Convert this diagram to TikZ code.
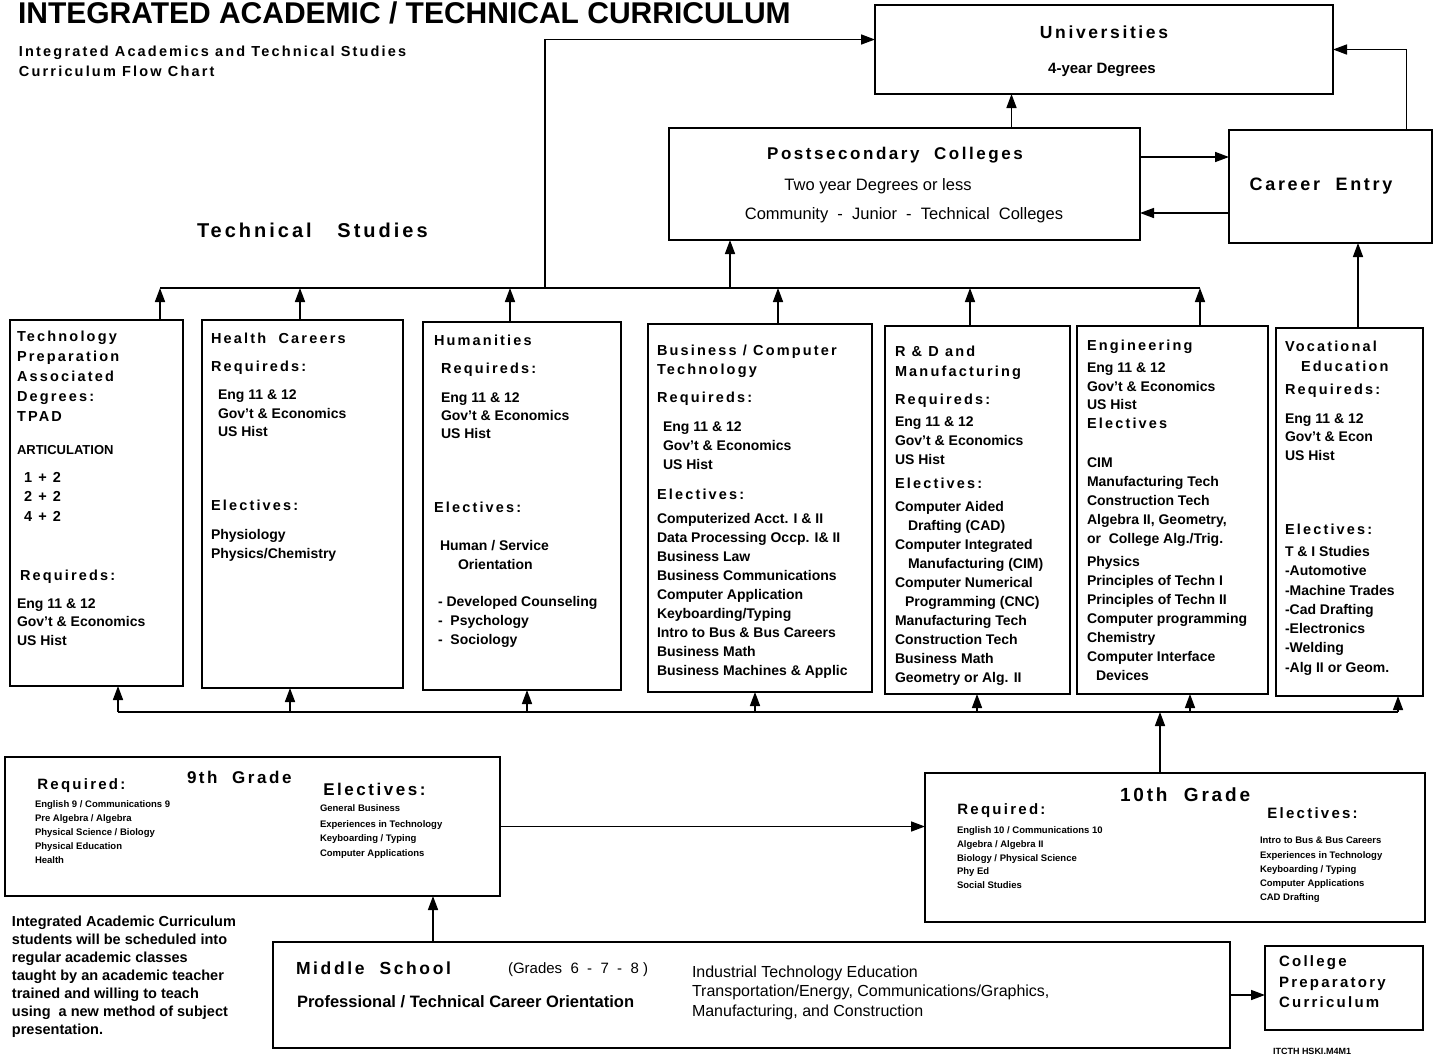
\documentclass[tikz,border=0pt]{standalone}
\usepackage{fontspec}
\setmainfont{Liberation Sans}
\newfontfamily\spacedfont{Liberation Sans}[LetterSpace=15]
\usetikzlibrary{arrows.meta}

% spread-out bold heading font, size as option
\newcommand{\hdf}[1][14.5]{\spacedfont\bfseries\fontsize{#1}{19}\selectfont}
% plain size switch
\newcommand{\fsz}[2]{\fontsize{#1}{#2}\selectfont}

\tikzset{
  box/.style={draw, line width=1.6pt, inner sep=0pt, outer sep=0pt, anchor=north west},
  txt/.style={inner sep=0pt, outer sep=0pt, align=left, anchor=north west, font=\bfseries\fsz{14}{19}},
  small/.style={txt, font=\bfseries\fsz{9.5}{14}},
  flow/.style={line width=1.6pt, -{Triangle[length=14pt,width=10pt]}},
  bus/.style={line width=1.6pt},
}

\begin{document}
\begin{tikzpicture}[x=1pt, y=-1pt]
    \useasboundingbox (0,0) rectangle (1436,1058);

    % Titles
    \node[txt, font=\bfseries\fsz{30}{32}, anchor=west] (title) at (18,13)
        {INTEGRATED ACADEMIC / TECHNICAL CURRICULUM};
    \node[txt, font={\hdf[14.5]}] (subtitle) at (19,46)
        {Integrated Academics and Technical Studies\\[1pt]Curriculum Flow Chart};
    \node[txt, font={\hdf[20]}, anchor=west] (techstudies) at (197,230) {Technical\ \ \ Studies};

    % Upper level
    \node[box, minimum width=458, minimum height=89] (univ) at (875,5) {};
    \node[txt, font={\hdf[17.5]}, anchor=center] (univ-name) at (1104,32) {Universities};
    \node[txt, font=\bfseries\fsz{15}{19}, anchor=center] (univ-deg) at (1102,70) {4-year Degrees};

    \node[box, minimum width=471, minimum height=112] (post) at (669,128) {};
    \node[txt, font={\hdf[17]}, anchor=center] (post-name) at (895,155) {Postsecondary\ \ Colleges};
    \node[txt, font=\fsz{16.5}{19}, anchor=center] (post-two) at (878,186) {Two year Degrees or less};
    \node[txt, font=\fsz{16.5}{19}, anchor=center] (post-kind) at (904,215)
        {Community\ \ -\ \ Junior\ \ -\ \ Technical\ \ Colleges};

    \node[box, minimum width=203, minimum height=113] (career) at (1229,130) {};
    \node[txt, font={\hdf[18]}, anchor=center] (career-name) at (1321,186) {Career\ \ Entry};

    % Technical studies columns
    \node[box, minimum width=173, minimum height=366] (tpad) at (10,320) {};
    \node[txt] (tpad-txt) at (17,330.5) {%
        {\hdf Technology}\\[1pt]
        {\hdf Preparation}\\[1pt]
        {\hdf Associated}\\[1pt]
        {\hdf Degrees:}\\[1pt]
        {\hdf TPAD}\\[14pt]
        {\fsz{13}{19}ARTICULATION}\\[9pt]
        \hspace*{7pt}{\hdf 1 + 2}\\
        \hspace*{7pt}{\hdf 2 + 2}\\[1pt]
        \hspace*{7pt}{\hdf 4 + 2}\\[40pt]
        \hspace*{3pt}{\hdf Requireds:}\\[9pt]
        Eng 11 \& 12\\[-1pt]
        Gov't \& Economics\\
        US Hist};

    \node[box, minimum width=201, minimum height=368] (health) at (202,320) {};
    \node[txt] (health-txt) at (211,332.5) {%
        {\hdf Health\ \ Careers}\\[9pt]
        {\hdf Requireds:}\\[9pt]
        \hspace*{7pt}Eng 11 \& 12\\
        \hspace*{7pt}Gov't \& Economics\\[-1pt]
        \hspace*{7pt}US Hist\\[55pt]
        {\hdf Electives:}\\[10pt]
        Physiology\\
        Physics/Chemistry};

    \node[box, minimum width=198, minimum height=368] (hum) at (423,322) {};
    \node[txt] (hum-txt) at (434,334.5) {%
        {\hdf Humanities}\\[9pt]
        \hspace*{7pt}{\hdf Requireds:}\\[10pt]
        \hspace*{7pt}Eng 11 \& 12\\[-1pt]
        \hspace*{7pt}Gov't \& Economics\\[-1pt]
        \hspace*{7pt}US Hist\\[55pt]
        {\hdf Electives:}\\[19pt]
        \hspace*{6pt}Human / Service\\
        \hspace*{24pt}Orientation\\[18pt]
        \hspace*{4pt}- Developed Counseling\\
        \hspace*{4pt}-\ \ Psychology\\
        \hspace*{4pt}-\ \ Sociology};

    \node[box, minimum width=224, minimum height=368] (busi) at (648,324) {};
    \node[txt] (busi-txt) at (657,344.5) {%
        {\hdf Business / Computer}\\
        {\hdf Technology}\\[9pt]
        {\hdf Requireds:}\\[10pt]
        \hspace*{6pt}Eng 11 \& 12\\
        \hspace*{6pt}Gov't \& Economics\\
        \hspace*{6pt}US Hist\\[11pt]
        {\hdf Electives:}\\[5pt]
        Computerized Acct. I \& II\\
        Data Processing Occp. I\& II\\
        Business Law\\
        Business Communications\\
        Computer Application\\
        Keyboarding/Typing\\
        Intro to Bus \& Bus Careers\\
        Business Math\\
        Business Machines \& Applic};

    \node[box, minimum width=185, minimum height=368] (rd) at (885,326) {};
    \node[txt] (rd-txt) at (895,345.5) {%
        {\hdf R \& D and}\\[1pt]
        {\hdf Manufacturing}\\[9pt]
        {\hdf Requireds:}\\[3pt]
        Eng 11 \& 12\\
        Gov't \& Economics\\
        US Hist\\[5pt]
        {\hdf Electives:}\\[4pt]
        Computer Aided\\
        \hspace*{13pt}Drafting (CAD)\\
        Computer Integrated\\
        \hspace*{13pt}Manufacturing (CIM)\\
        Computer Numerical\\
        \hspace*{10pt}Programming (CNC)\\
        Manufacturing Tech\\
        Construction Tech\\
        Business Math\\
        Geometry or Alg. II};

    \node[box, minimum width=191, minimum height=368] (eng) at (1077,326) {};
    \node[txt] (eng-txt) at (1087,339.5) {%
        {\hdf Engineering}\\[3pt]
        Eng 11 \& 12\\
        Gov't \& Economics\\[-1pt]
        US Hist\\
        {\hdf Electives}\\[20pt]
        CIM\\
        Manufacturing Tech\\
        Construction Tech\\
        Algebra II, Geometry,\\
        or\ \ College Alg./Trig.\\[4pt]
        Physics\\
        Principles of Techn I\\
        Principles of Techn II\\
        Computer programming\\
        Chemistry\\
        Computer Interface\\
        \hspace*{9pt}Devices};

    \node[box, minimum width=147, minimum height=368] (voc) at (1276,328) {};
    \node[txt] (voc-txt) at (1285,340.5) {%
        {\hdf Vocational}\\[1pt]
        \hspace*{16pt}{\hdf Education}\\[4pt]
        {\hdf Requireds:}\\[10pt]
        Eng 11 \& 12\\[-1pt]
        Gov't \& Econ\\
        US Hist\\[55pt]
        {\hdf Electives:}\\[3pt]
        T \& I Studies\\
        -Automotive\\[1pt]
        -Machine Trades\\
        -Cad Drafting\\
        -Electronics\\
        -Welding\\[1pt]
        -Alg II or Geom.};

    % Lower level
    \node[box, minimum width=495, minimum height=139] (g9) at (5,757) {};
    \node[txt, font={\hdf[17]}, anchor=west] (g9-name) at (187,777) {9th\ \ Grade};
    \node[small] (g9-req) at (31,779) {{\hdf[15] Required:}\\[4pt]
        \hspace*{4pt}English 9 / Communications 9\\\hspace*{4pt}Pre Algebra / Algebra\\
        \hspace*{4pt}Physical Science / Biology\\\hspace*{4pt}Physical Education\\\hspace*{4pt}Health};
    \node[small] (g9-elec) at (316,783.5) {{\hdf[17] Electives:}\\[2pt]
        \hspace*{4pt}General Business\\[2pt]\hspace*{4pt}Experiences in Technology\\
        \hspace*{4pt}Keyboarding / Typing\\[1pt]\hspace*{4pt}Computer Applications};

    \node[box, minimum width=500, minimum height=149] (g10) at (925,773) {};
    \node[txt, font={\hdf[19]}, anchor=west] (g10-name) at (1120,795) {10th\ \ Grade};
    \node[small] (g10-req) at (951,804) {{\hdf[15] Required:}\\[5pt]
        \hspace*{6pt}English 10 / Communications 10\\\hspace*{6pt}Algebra / Algebra II\\
        \hspace*{6pt}Biology / Physical Science\\[-1pt]\hspace*{6pt}Phy Ed\\\hspace*{6pt}Social Studies};
    \node[small] (g10-elec) at (1260,808) {\hspace*{1pt}{\hdf[15] Electives:}\\[11pt]
        Intro to Bus \& Bus Careers\\[1pt]Experiences in Technology\\Keyboarding / Typing\\
        Computer Applications\\CAD Drafting};

    \node[box, minimum width=957, minimum height=106] (mid) at (273,942) {};
    \node[txt, font={\hdf[17.5]}, anchor=west] (mid-name) at (296,968) {Middle\ \ School};
    \node[txt, font=\fsz{15}{19}, anchor=west] (mid-grades) at (508,970) {(Grades\ \ 6\ \ -\ \ 7\ \ -\ \ 8\ )};
    \node[txt, font=\bfseries\fsz{16.5}{19}, anchor=west] (mid-orient) at (297,1002)
        {Professional / Technical Career Orientation};
    \node[txt, font=\fsz{16}{19.5}] (mid-tech) at (692,965.5) {Industrial Technology Education\\
        Transportation/Energy, Communications/Graphics,\\Manufacturing, and Construction};

    \node[box, minimum width=158, minimum height=84] (prep) at (1265,946) {};
    \node[txt, font={\hdf[15]}] (prep-txt) at (1279,956) {College\\[1.5pt]Preparatory\\[1.5pt]Curriculum};

    \node[txt, font=\bfseries\fsz{14.5}{18}] (note) at (12,916) {Integrated Academic Curriculum\\
        students will be scheduled into\\regular academic classes\\taught by an academic teacher\\
        trained and willing to teach\\using\ \ a new method of subject\\presentation.};
    \node[txt, font=\bfseries\fsz{9}{10}, anchor=west] (code) at (1273,1051) {ITCTH HSKI.M4M1};

    % Buses
    \coordinate (topbus) at (0,288);
    \coordinate (botbus) at (0,712);

    % columns up to the top bus
    \foreach \b/\dx in {tpad/63.5pt, health/-2.5pt, hum/-12pt, busi/18pt, rd/-7.5pt, eng/27.5pt} {
        \coordinate (\b-up) at ([xshift=\dx]\b.north);
        \draw[flow] (\b-up) -- (\b-up |- topbus);
    }
    % bottom bus up into the columns
    \foreach \b/\dx in {tpad/21.5pt, health/-12.5pt, hum/5pt, busi/-5pt, rd/-0.5pt, eng/17.5pt, voc/48.5pt} {
        \coordinate (\b-dn) at ([xshift=\dx]\b.south);
        \draw[flow] (\b-dn |- botbus) -- (\b-dn);
    }
    \draw[bus] (tpad-up |- topbus) -- (eng-up |- topbus);
    \draw[bus] (tpad-dn |- botbus) -- (voc-dn |- botbus);

    % top bus to colleges and universities
    \coordinate (left-up) at (545,288);
    \coordinate (univ-in) at ([yshift=10pt]univ.west);
    \draw[flow] (left-up) |- (univ-in);
    \coordinate (post-in) at ([xshift=-174.5pt]post.south);
    \draw[flow] (post-in |- topbus) -- (post-in);
    \coordinate (post-up) at ([xshift=107pt]post.north);
    \draw[flow] (post-up) -- (post-up |- univ.south);
    \coordinate (post-out) at ([yshift=27pt]post.east);
    \draw[flow] (post-out) -- (post-out -| career.west);
    \coordinate (career-back) at ([yshift=-26.5pt]career.west);
    \draw[flow] (career-back) -- (career-back -| post.east);
    \coordinate (career-up) at ([xshift=76pt]career.north);
    \draw[flow] (career-up) |- (univ.east);
    \coordinate (voc-up) at ([xshift=8.5pt]voc.north);
    \draw[flow] (voc-up) -- (voc-up |- career.south);

    % grades
    \coordinate (g10-up) at ([xshift=-15pt]g10.north);
    \draw[flow] (g10-up) -- (g10-up |- botbus);
    \draw[flow] (g9.east) -- (g9.east -| g10.west);
    \coordinate (mid-up) at ([xshift=-318.5pt]mid.north);
    \draw[flow] (mid-up) -- (mid-up |- g9.south);
    \draw[flow] (mid.east) -- (mid.east -| prep.west);
\end{tikzpicture}
\end{document}
